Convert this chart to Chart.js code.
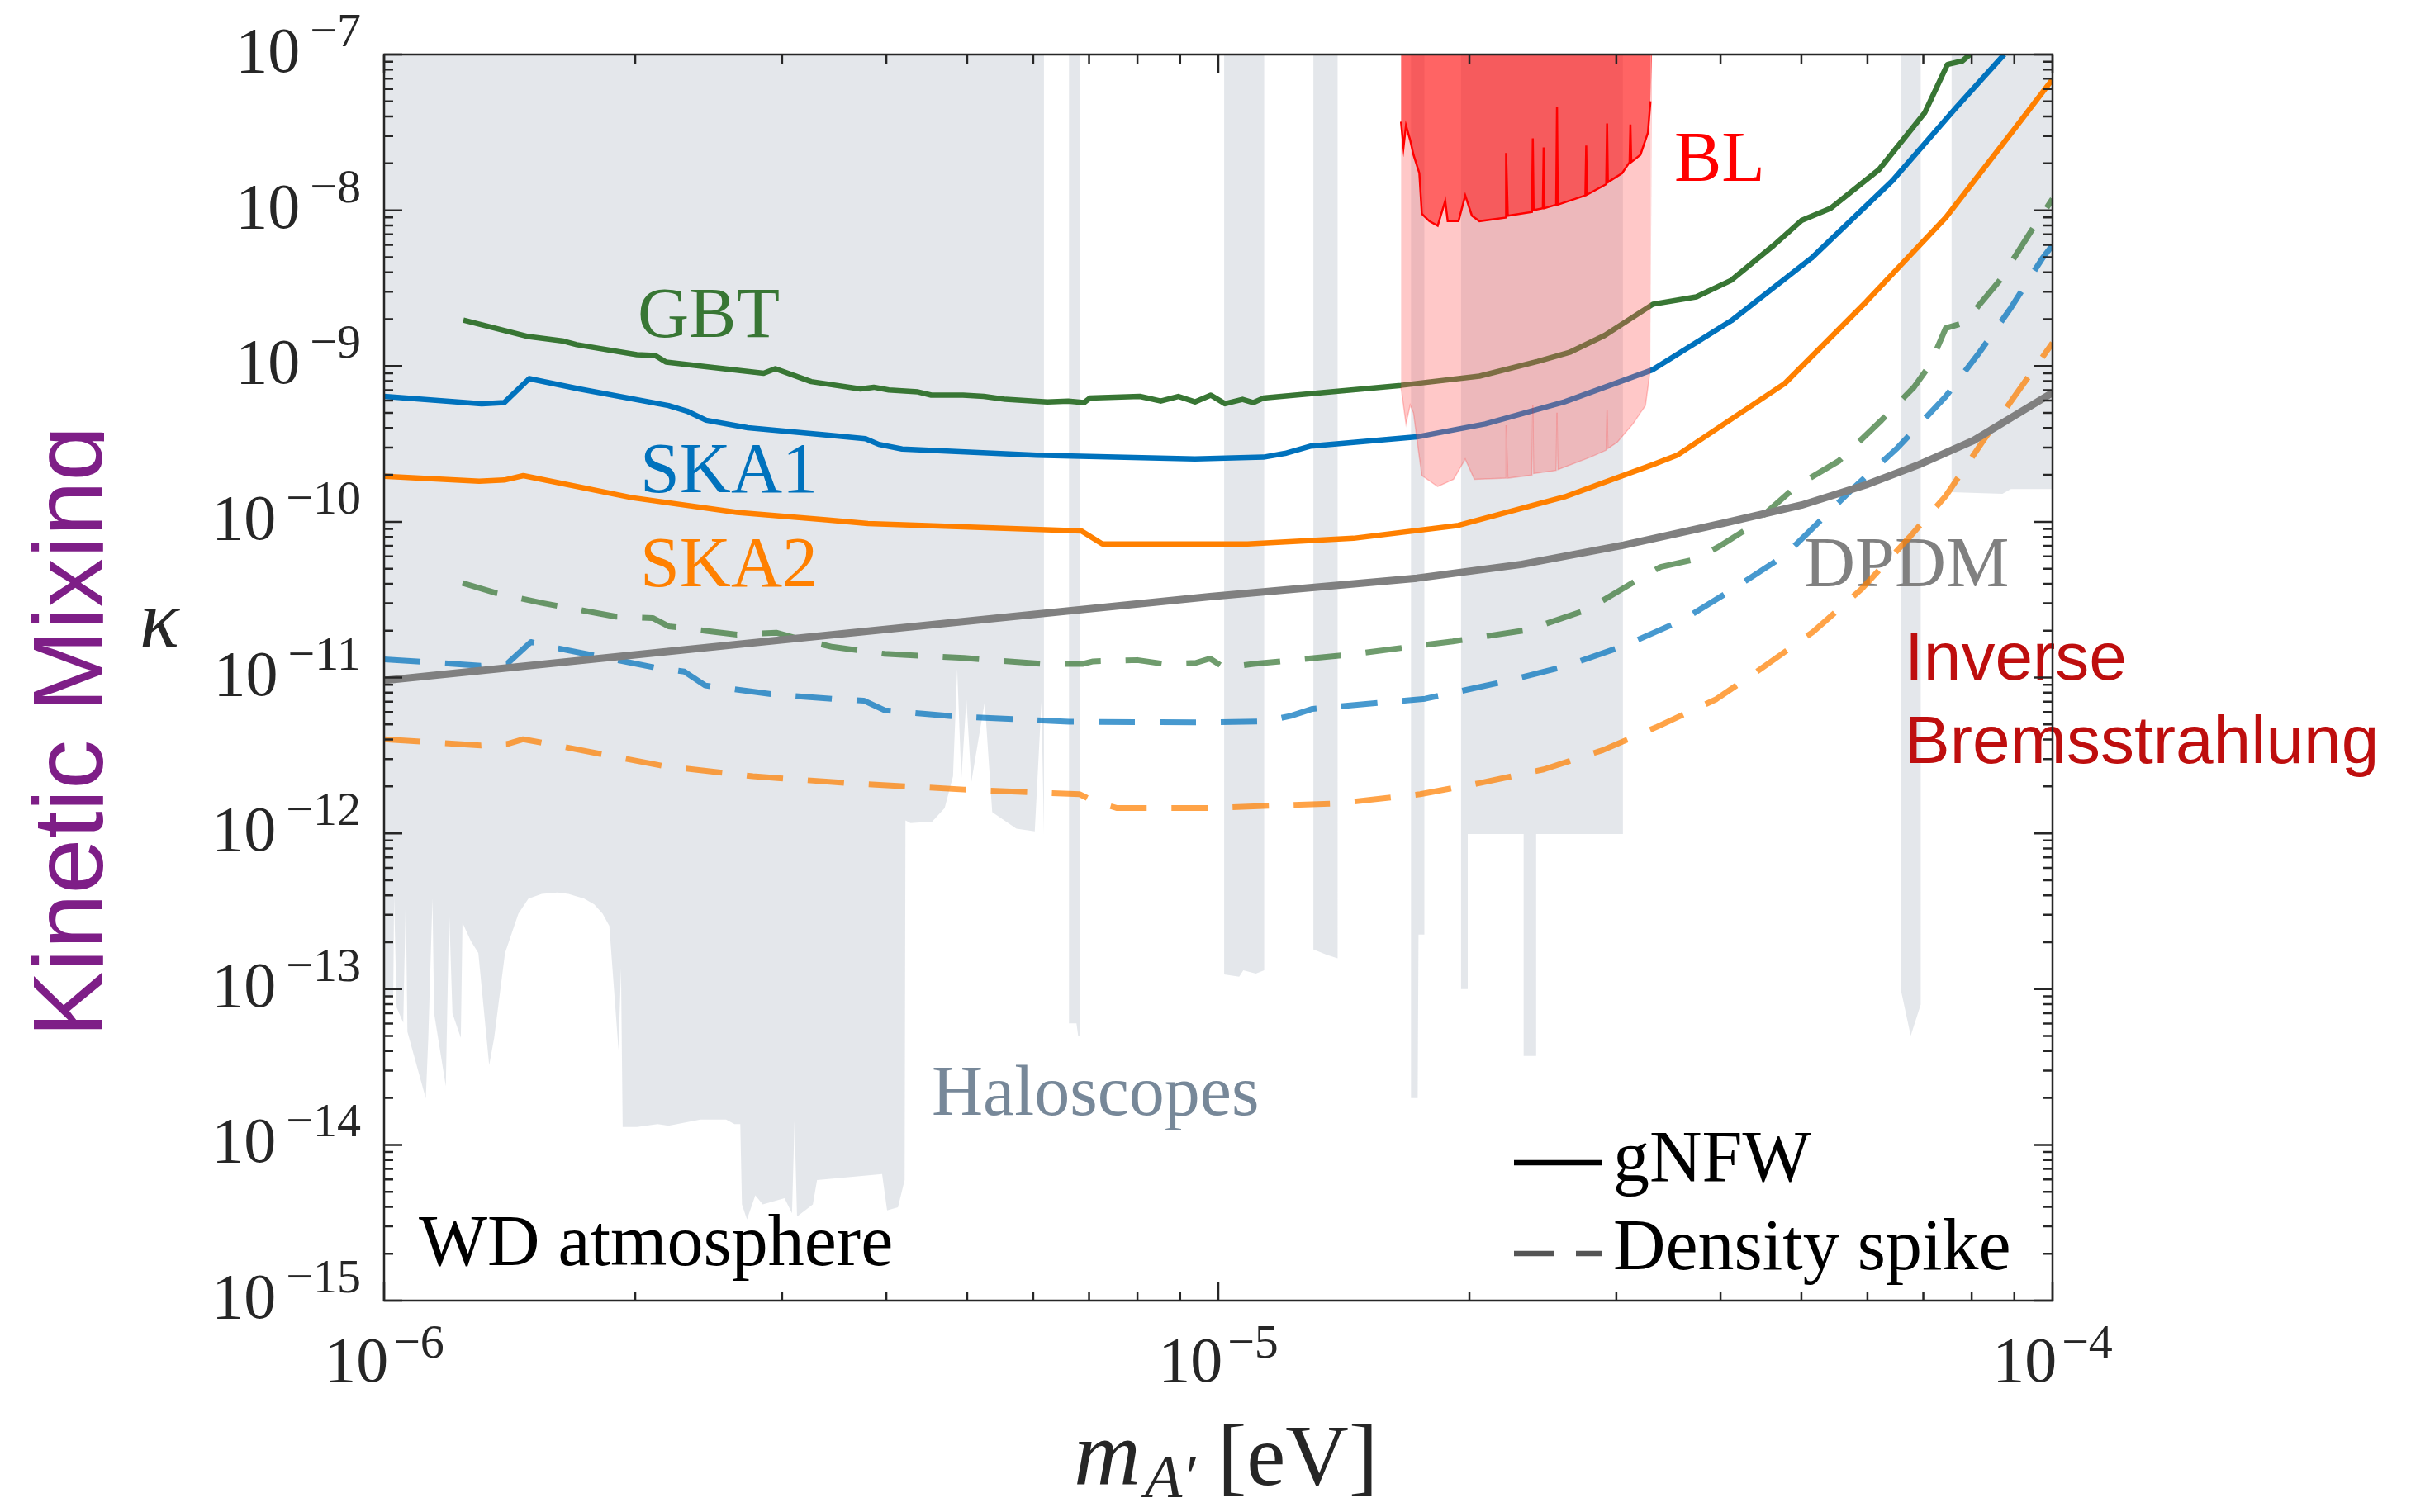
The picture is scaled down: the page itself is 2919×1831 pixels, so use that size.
<!DOCTYPE html>
<html>
<head>
<meta charset="utf-8">
<script src="https://cdn.jsdelivr.net/npm/chart.js@4.4.1/dist/chart.umd.min.js"></script>
<style>
  html, body { margin: 0; padding: 0; background: #fff; }
  #wrap { width: 2919px; height: 1831px; }
</style>
</head>
<body>
<div id="wrap"><canvas id="chart" width="2919" height="1831"></canvas></div>
<script>
// every point is [log10 m_A' (eV), log10 kappa]
const gbtGnfw = [
  [-5.905,-8.705],[-5.829,-8.809],[-5.785,-8.840],[-5.769,-8.863],[-5.697,-8.927],[-5.675,-8.932],
  [-5.662,-8.975],[-5.545,-9.046],[-5.531,-9.017],[-5.488,-9.100],[-5.429,-9.147],[-5.413,-9.136],
  [-5.395,-9.154],[-5.360,-9.166],[-5.344,-9.187],[-5.306,-9.187],[-5.281,-9.195],[-5.255,-9.214],
  [-5.205,-9.230],[-5.180,-9.225],[-5.161,-9.235],[-5.154,-9.206],[-5.094,-9.195],[-5.069,-9.225],
  [-5.048,-9.195],[-5.028,-9.230],[-5.009,-9.187],[-4.992,-9.242],[-4.971,-9.214],[-4.958,-9.235],
  [-4.946,-9.206],[-4.781,-9.124],[-4.687,-9.065],[-4.617,-8.970],[-4.578,-8.910],[-4.537,-8.804],
  [-4.479,-8.603],[-4.427,-8.556],[-4.385,-8.449],[-4.334,-8.224],[-4.301,-8.066],[-4.266,-7.987],
  [-4.208,-7.739],[-4.153,-7.372],[-4.126,-7.064],[-4.108,-7.041],[-4.099,-7.0]
];
const ska1Gnfw = [
  [-6.0,-9.195],[-5.883,-9.242],[-5.856,-9.235],[-5.826,-9.081],[-5.766,-9.147],[-5.659,-9.254],
  [-5.637,-9.289],[-5.614,-9.348],[-5.564,-9.396],[-5.470,-9.443],[-5.423,-9.467],[-5.407,-9.503],
  [-5.379,-9.533],[-5.218,-9.573],[-5.028,-9.597],[-4.946,-9.585],[-4.920,-9.561],[-4.889,-9.514],
  [-4.762,-9.455],[-4.680,-9.372],[-4.585,-9.230],[-4.479,-9.023],[-4.385,-8.709],[-4.289,-8.307],
  [-4.192,-7.810],[-4.115,-7.337],[-4.058,-7.0]
];
const ska2Gnfw = [
  [-6.0,-9.708],[-5.886,-9.739],[-5.856,-9.732],[-5.833,-9.704],[-5.703,-9.845],[-5.577,-9.940],
  [-5.470,-9.988],[-5.420,-10.011],[-5.164,-10.059],[-5.139,-10.142],[-4.965,-10.142],[-4.838,-10.106],
  [-4.712,-10.023],[-4.585,-9.840],[-4.479,-9.633],[-4.450,-9.573],[-4.321,-9.112],[-4.224,-8.591],
  [-4.128,-8.047],[-4.044,-7.467],[-4.0,-7.159]
];
const gbtSpike = [
  [-5.906,-10.393],[-5.865,-10.459],[-5.811,-10.521],[-5.722,-10.609],[-5.678,-10.618],[-5.659,-10.671],
  [-5.577,-10.724],[-5.530,-10.712],[-5.501,-10.754],[-5.463,-10.803],[-5.400,-10.848],[-5.305,-10.874],
  [-5.210,-10.913],[-5.163,-10.913],[-5.150,-10.896],[-5.097,-10.888],[-5.065,-10.913],[-5.027,-10.906],
  [-5.010,-10.878],[-4.993,-10.936],[-4.958,-10.913],[-4.848,-10.856],[-4.719,-10.768],[-4.629,-10.694],
  [-4.558,-10.565],[-4.494,-10.362],[-4.470,-10.290],[-4.426,-10.238],[-4.398,-10.153],[-4.363,-10.035],
  [-4.308,-9.775],[-4.256,-9.609],[-4.205,-9.348],[-4.166,-9.135],[-4.147,-8.994],[-4.128,-8.757],
  [-4.105,-8.721],[-4.089,-8.615],[-4.063,-8.449],[-4.025,-8.129],[-4.0,-7.928]
];
const ska1Spike = [
  [-6.0,-10.883],[-5.884,-10.924],[-5.852,-10.909],[-5.824,-10.772],[-5.792,-10.812],[-5.675,-10.936],
  [-5.640,-10.962],[-5.615,-11.051],[-5.533,-11.108],[-5.457,-11.139],[-5.425,-11.148],[-5.400,-11.210],
  [-5.318,-11.249],[-5.179,-11.284],[-5.010,-11.288],[-4.945,-11.281],[-4.913,-11.246],[-4.887,-11.201],
  [-4.752,-11.136],[-4.655,-11.024],[-4.584,-10.927],[-4.513,-10.795],[-4.442,-10.627],[-4.378,-10.415],
  [-4.320,-10.212],[-4.240,-9.790],[-4.186,-9.526],[-4.128,-9.195],[-4.089,-8.923],[-4.050,-8.627],
  [-4.012,-8.307],[-4.0,-8.224]
];
const ska2Spike = [
  [-6.0,-11.396],[-5.884,-11.436],[-5.852,-11.426],[-5.833,-11.396],[-5.811,-11.418],[-5.666,-11.567],
  [-5.558,-11.634],[-5.444,-11.678],[-5.305,-11.719],[-5.166,-11.749],[-5.150,-11.793],[-5.122,-11.837],
  [-5.010,-11.837],[-4.855,-11.807],[-4.758,-11.749],[-4.687,-11.678],[-4.610,-11.590],[-4.539,-11.466],
  [-4.474,-11.316],[-4.403,-11.139],[-4.345,-10.927],[-4.287,-10.706],[-4.229,-10.432],[-4.171,-10.096],
  [-4.128,-9.834],[-4.083,-9.479],[-4.044,-9.183],[-4.0,-8.852]
];
const dpdm = [
  [-6.0,-11.019],[-5.5,-10.745],[-5.010,-10.480],[-4.762,-10.362],[-4.636,-10.273],[-4.514,-10.150],
  [-4.392,-10.006],[-4.301,-9.893],[-4.224,-9.763],[-4.160,-9.633],[-4.095,-9.479],[-4.0,-9.171]
];
// lower edge of the haloscope / WD exclusion (filled up to the top)
const haloscopeEdge = [
  [-6.000,-13.041],[-5.989,-13.041],[-5.988,-12.399],[-5.985,-13.118],[-5.977,-13.216],[-5.974,-12.419],
  [-5.972,-13.274],[-5.950,-13.702],[-5.947,-13.313],[-5.942,-12.419],[-5.940,-13.157],[-5.926,-13.624],
  [-5.922,-12.496],[-5.918,-13.157],[-5.908,-13.313],[-5.906,-12.574],[-5.896,-12.691],[-5.887,-12.768],
  [-5.874,-13.488],[-5.868,-13.313],[-5.855,-12.768],[-5.839,-12.516],[-5.827,-12.419],[-5.811,-12.389],
  [-5.792,-12.380],[-5.779,-12.389],[-5.760,-12.419],[-5.748,-12.457],[-5.738,-12.516],[-5.730,-12.594],
  [-5.719,-13.391],[-5.716,-12.866],[-5.714,-13.886],[-5.697,-13.886],[-5.672,-13.867],[-5.659,-13.877],
  [-5.621,-13.838],[-5.590,-13.838],[-5.580,-13.867],[-5.573,-13.867],[-5.571,-14.382],[-5.565,-14.479],
  [-5.555,-14.324],[-5.546,-14.382],[-5.520,-14.343],[-5.511,-14.440],[-5.508,-13.847],[-5.505,-14.460],
  [-5.486,-14.382],[-5.481,-14.226],[-5.403,-14.188],[-5.397,-14.421],[-5.384,-14.401],[-5.376,-14.226],
  [-5.375,-11.917],[-5.369,-11.934],[-5.343,-11.925],[-5.328,-11.837],[-5.318,-11.634],[-5.313,-10.945],
  [-5.308,-11.652],[-5.302,-11.139],[-5.296,-11.669],[-5.280,-11.157],[-5.271,-11.864],[-5.242,-11.970],
  [-5.220,-11.987],[-5.212,-11.157],[-5.209,-12.005],[-5.209,-7],
  [-5.179,-7],[-5.179,-13.22],[-5.170,-13.22],[-5.168,-13.30],[-5.166,-13.30],[-5.166,-7],
  [-4.993,-7],[-4.993,-12.906],[-4.975,-12.92],[-4.970,-12.88],[-4.955,-12.90],[-4.945,-12.88],[-4.945,-7],
  [-4.886,-7],[-4.886,-12.746],[-4.870,-12.78],[-4.857,-12.803],[-4.857,-7],
  [-4.769,-7],[-4.769,-13.70],[-4.761,-13.70],[-4.760,-12.65],[-4.753,-12.65],[-4.753,-7],
  [-4.709,-7],[-4.709,-13.0],[-4.701,-13.0],[-4.701,-12.004],[-4.634,-12.004],[-4.634,-13.43],
  [-4.619,-13.43],[-4.619,-12.004],[-4.515,-12.004],[-4.515,-7],
  [-4.182,-7],[-4.182,-13.0],[-4.170,-13.30],[-4.158,-13.10],[-4.158,-7],
  [-4.121,-7],[-4.121,-9.81],[-4.060,-9.82],[-4.050,-9.79],[-4.0,-9.79]
];
// inverse bremsstrahlung (BL) limits
const blStrong = [
  [-4.781,-7.0],[-4.781,-7.431],[-4.778,-7.597],[-4.775,-7.455],[-4.770,-7.549],[-4.766,-7.644],
  [-4.759,-7.762],[-4.756,-8.023],[-4.747,-8.070],[-4.737,-8.099],[-4.728,-7.940],[-4.725,-8.070],
  [-4.712,-8.070],[-4.704,-7.905],[-4.696,-8.035],[-4.687,-8.070],[-4.655,-8.047],[-4.655,-7.632],
  [-4.653,-8.035],[-4.624,-8.011],[-4.623,-7.538],[-4.622,-7.999],[-4.611,-7.987],[-4.610,-7.597],
  [-4.609,-7.987],[-4.595,-7.964],[-4.594,-7.336],[-4.593,-7.964],[-4.560,-7.905],[-4.559,-7.585],
  [-4.558,-7.900],[-4.535,-7.833],[-4.534,-7.443],[-4.533,-7.820],[-4.516,-7.762],[-4.507,-7.691],
  [-4.506,-7.450],[-4.505,-7.690],[-4.494,-7.644],[-4.488,-7.549],[-4.485,-7.502],[-4.482,-7.300],
  [-4.480,-7.0]
];
const blWeak = [
  [-4.781,-7.0],[-4.781,-9.135],[-4.775,-9.372],[-4.770,-9.250],[-4.766,-9.301],[-4.759,-9.585],
  [-4.756,-9.703],[-4.737,-9.774],[-4.718,-9.727],[-4.704,-9.597],[-4.693,-9.727],[-4.655,-9.720],
  [-4.655,-9.380],[-4.653,-9.720],[-4.624,-9.700],[-4.623,-9.250],[-4.622,-9.690],[-4.595,-9.670],
  [-4.594,-9.300],[-4.593,-9.665],[-4.554,-9.585],[-4.535,-9.540],[-4.534,-9.280],[-4.533,-9.530],
  [-4.522,-9.490],[-4.503,-9.372],[-4.494,-9.300],[-4.488,-9.254],[-4.482,-9.017],[-4.480,-7.0]
];
const xTickExps = [-6, -5, -4];
const yTickExps = [-7, -8, -9, -10, -11, -12, -13, -14, -15];

const SERIF = '"Liberation Serif", "DejaVu Serif", serif';
const SANS = '"Liberation Sans", Arial, sans-serif';
const GREEN = 'rgb(56,118,52)';
const BLUE = 'rgb(0,114,189)';
const ORANGE = 'rgb(255,128,0)';

const pts = arr => arr.map(([a, b]) => ({ x: Math.pow(10, a), y: Math.pow(10, b) }));

function curve(data, color, width, dash, order) {
    return {
        data: pts(data),
        borderColor: color,
        borderWidth: width,
        borderDash: dash || [],
        borderJoinStyle: 'round',
        pointRadius: 0,
        fill: false,
        order: order
    };
}

function region(data, fillColor, lineColor, lineWidth, order) {
    const n = data.length;
    return {
        data: pts(data),
        borderColor: lineColor,
        borderWidth: lineWidth,
        backgroundColor: fillColor,
        pointRadius: 0,
        fill: 'end',
        order: order,
        segment: {
            borderColor: c => (c.p0DataIndex === 0 || c.p1DataIndex === n - 1) ? 'rgba(0,0,0,0)' : undefined
        }
    };
}

const datasets = [
    region(blStrong, 'rgba(255,0,0,0.5)', '#ff0000', 2.5, 0),
    region(blWeak, 'rgba(255,96,96,0.35)', 'rgba(255,40,40,0.25)', 1.5, 1),
    curve(dpdm, 'rgb(128,128,128)', 9, null, 2),
    curve(gbtGnfw, GREEN, 6.5, null, 3),
    curve(ska1Gnfw, BLUE, 6.5, null, 4),
    curve(ska2Gnfw, ORANGE, 6.5, null, 5),
    curve(gbtSpike, 'rgba(56,118,52,0.72)', 7, [44, 30], 6),
    curve(ska1Spike, 'rgba(0,114,189,0.72)', 7, [44, 30], 7),
    curve(ska2Spike, 'rgba(255,128,0,0.72)', 7, [44, 30], 8),
    {
        data: pts(haloscopeEdge),
        borderColor: 'rgba(0,0,0,0)',
        borderWidth: 0,
        backgroundColor: 'rgba(119,136,153,0.2)',
        pointRadius: 0,
        fill: 'end',
        order: 9
    }
];
const GRAY_INDEX = datasets.length - 1;

function text(ctx, str, x, y, font, color, align) {
    ctx.font = font;
    ctx.fillStyle = color;
    ctx.textAlign = align || 'left';
    ctx.textBaseline = 'alphabetic';
    ctx.fillText(str, x, y);
}

const labelsPlugin = {
    id: 'labels',
    afterDatasetDraw(chart, args) {
        if (args.index !== GRAY_INDEX) return;
        const ctx = chart.ctx;
        ctx.save();
        const f = '86px ' + SERIF;
        text(ctx, 'GBT', 772, 408, f, GREEN);
        text(ctx, 'SKA1', 775, 596, f, BLUE);
        text(ctx, 'SKA2', 775, 710, f, ORANGE);
        text(ctx, 'DPDM', 2184, 710, f, 'rgb(128,128,128)');
        text(ctx, 'BL', 2027, 219, f, '#ff0000');
        text(ctx, 'Haloscopes', 1128, 1350, f, 'rgb(119,136,153)');
        text(ctx, 'WD atmosphere', 507, 1532, '88px ' + SERIF, '#000');
        ctx.restore();
    },
    afterDraw(chart) {
        const ctx = chart.ctx;
        const xs = chart.scales.x, ys = chart.scales.y;
        const { left, right, top, bottom } = chart.chartArea;
        ctx.save();

        // text partly outside the axes
        text(ctx, 'Inverse', 2306, 823, '82px ' + SANS, 'rgb(190,14,14)');
        text(ctx, 'Bremsstrahlung', 2306, 924, '82px ' + SANS, 'rgb(190,14,14)');

        // legend
        ctx.lineCap = 'butt';
        ctx.strokeStyle = '#000';
        ctx.lineWidth = 6.5;
        ctx.beginPath(); ctx.moveTo(1833, 1408); ctx.lineTo(1940, 1408); ctx.stroke();
        ctx.strokeStyle = '#555';
        ctx.setLineDash([49, 26]);
        ctx.beginPath(); ctx.moveTo(1833, 1518); ctx.lineTo(1940, 1518); ctx.stroke();
        ctx.setLineDash([]);
        text(ctx, 'gNFW', 1953, 1430, '88px ' + SERIF, '#000');
        text(ctx, 'Density spike', 1953, 1537, '88px ' + SERIF, '#000');

        // frame and inward ticks
        ctx.strokeStyle = '#262626';
        ctx.lineWidth = 2.5;
        ctx.strokeRect(left, top, right - left, bottom - top);
        ctx.beginPath();
        for (let d = -6; d <= -4; d++) {
            for (let k = 1; k <= 9; k++) {
                if (d === -4 && k > 1) break;
                const px = xs.getPixelForValue(k * Math.pow(10, d));
                const len = k === 1 ? 22 : 11;
                ctx.moveTo(px, bottom); ctx.lineTo(px, bottom - len);
                ctx.moveTo(px, top); ctx.lineTo(px, top + len);
            }
        }
        for (let d = -15; d <= -7; d++) {
            for (let k = 1; k <= 9; k++) {
                if (d === -7 && k > 1) break;
                const py = ys.getPixelForValue(k * Math.pow(10, d));
                const len = k === 1 ? 22 : 11;
                ctx.moveTo(left, py); ctx.lineTo(left + len, py);
                ctx.moveTo(right, py); ctx.lineTo(right - len, py);
            }
        }
        ctx.stroke();

        // tick labels 10^n
        const ink = '#262626';
        yTickExps.forEach(e => {
            const py = ys.getPixelForValue(Math.pow(10, e));
            ctx.font = '58px ' + SERIF;
            const es = '\u2212' + Math.abs(e);
            const ew = ctx.measureText(es).width;
            text(ctx, es, 437, py - 10, '58px ' + SERIF, ink, 'right');
            text(ctx, '10', 437 - ew - 12, py + 21, '78px ' + SERIF, ink, 'right');
        });
        xTickExps.forEach(e => {
            const px = xs.getPixelForValue(Math.pow(10, e));
            ctx.font = '58px ' + SERIF;
            const es = '\u2212' + Math.abs(e);
            const ew = ctx.measureText(es).width;
            const total = 78 + 6 + ew;
            const x0 = px - total / 2;
            text(ctx, '10', x0, 1673, '78px ' + SERIF, ink);
            text(ctx, es, x0 + 84, 1644, '58px ' + SERIF, ink);
        });

        // axis titles
        text(ctx, 'm', 1300, 1798, 'italic 112px ' + SERIF, ink);
        text(ctx, 'A\u2032', 1386, 1813, 'italic 74px ' + SERIF, ink);
        text(ctx, '[eV]', 1474, 1798, '106px ' + SERIF, ink);
        text(ctx, '\u03ba', 169, 783, 'italic 100px ' + SERIF, ink);

        // rotated side label, clipped at its baseline
        ctx.save();
        ctx.beginPath();
        ctx.rect(0, 0, 126, 1831);
        ctx.clip();
        ctx.translate(124, 1256);
        ctx.rotate(-Math.PI / 2);
        text(ctx, 'Kinetic Mixing', 0, 0, '120px ' + SANS, 'rgb(126,30,135)');
        ctx.restore();

        ctx.restore();
    }
};

new Chart(document.getElementById('chart'), {
    type: 'line',
    data: { datasets: datasets },
    options: {
        responsive: false,
        animation: false,
        devicePixelRatio: 1,
        events: [],
        layout: { padding: { left: 465, right: 434, top: 66, bottom: 256 } },
        scales: {
            x: { type: 'logarithmic', min: 1e-6, max: 1e-4, display: false },
            y: { type: 'logarithmic', min: 1e-15, max: 1e-7, display: false }
        },
        plugins: {
            legend: { display: false },
            tooltip: { enabled: false }
        }
    },
    plugins: [labelsPlugin]
});
</script>
</body>
</html>
